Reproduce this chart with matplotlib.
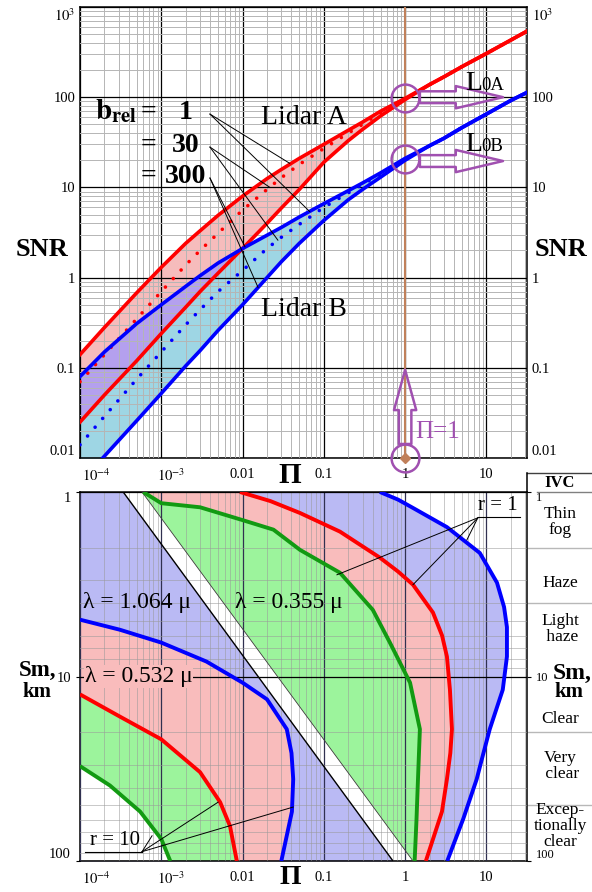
import numpy as np
import matplotlib
matplotlib.use('Agg')
import matplotlib.pyplot as plt
import matplotlib.transforms as mtransforms
from matplotlib.ticker import LogLocator, FixedLocator, FixedFormatter, NullFormatter

plt.rcParams['font.family'] = ['Liberation Serif', 'DejaVu Serif']
plt.rcParams['mathtext.fontset'] = 'stix'

# ---- top panel: SNR vs Pi ----
pi_top = [1e-4, 2e-4, 5e-4, 1e-3, 2e-3, 3e-3, 5e-3, 0.01, 0.02, 0.03, 0.05, 0.1,
          0.2, 0.3, 0.5, 1, 2, 3, 5, 10, 20, 31.6]
snr_a1 = [0.14, 0.28, 0.68, 1.3, 2.4, 3.3, 4.9, 8.0, 12.5, 15.8, 21, 30,
          43, 53, 70, 97, 138, 168, 218, 305, 430, 540]
snr_a30 = [0.07, 0.14, 0.35, 0.70, 1.38, 2.0, 3.1, 5.6, 9.5, 12.8, 18, 27,
           40, 50, 67, 96, 138, 168, 218, 305, 430, 540]
snr_a300 = [0.025, 0.05, 0.12, 0.24, 0.47, 0.70, 1.12, 2.1, 4.0, 5.9, 9.5, 19,
            33, 44, 62, 94, 138, 168, 218, 305, 430, 540]
snr_b1 = [0.08, 0.15, 0.31, 0.5, 0.8, 1.05, 1.45, 2.1, 2.95, 3.6, 4.7, 6.6,
          9.2, 11.2, 14.5, 21, 29, 35, 46, 65, 92, 113]
snr_b30 = [0.014, 0.029, 0.075, 0.15, 0.30, 0.44, 0.70, 1.2, 2.1, 2.8, 3.9, 6.0,
           8.7, 10.8, 14, 20.5, 29, 35, 46, 65, 92, 113]
snr_b300 = [0.0053, 0.0105, 0.026, 0.052, 0.105, 0.155, 0.26, 0.5, 1.0, 1.5, 2.4, 4.3,
            7.3, 9.5, 13, 20, 29, 35, 46, 65, 92, 113]

pi_ticks = [1e-4, 1e-3, 0.01, 0.1, 1, 10]
pi_labels = ['$10^{-4}$', '$10^{-3}$', '0.01', '0.1', '1', '10']
snr_ticks = [0.01, 0.1, 1, 10, 100, 1000]
snr_labels = ['0.01', '0.1', '1', '10', '100', '$10^{3}$']

# leader lines: label anchor -> (Pi, SNR) points on curves
brel_rows = ['1', '30', '300']
brel_anchor = [65, 28, 12.7]
brel_targets = [[(0.038, 18.5), (0.067, 5.4)],
                [(0.0217, 10), (0.0272, 2.6)],
                [(0.0107, 2.2), (0.0155, 0.78)]]
l0_snr = [97, 20.5]

# ---- bottom panel: Sm vs Pi ----
sm_ticks = [1, 10, 100]
band_sm = [1, 100]
band_left = [3.4e-4, 0.71]
band_right = [5.8e-4, 1.25]

g1_sm = [1, 1.15, 1.21, 1.42, 1.6, 2.06, 2.74, 4.35, 6.55, 10.8, 19.3, 36, 60, 100]
g1_pi = [6.0e-4, 1e-3, 3e-3, 0.01, 0.024, 0.051, 0.158, 0.40, 0.65, 1.15, 1.52, 1.44, 1.38, 1.31]
r1_sm = [1, 1.12, 1.30, 1.64, 2.27, 2.7, 3.18, 4.5, 6.0, 7.8, 11.8, 19.3, 26, 36, 54, 100]
r1_pi = [0.0093, 0.022, 0.051, 0.158, 0.49, 0.82, 1.25, 2.2, 2.85, 3.27, 3.56, 3.77, 3.6,
         3.27, 2.84, 1.8]
b1_sm = [1, 1.1, 1.22, 1.55, 2.14, 3.1, 4.2, 5.4, 7.8, 11.8, 19.3, 27, 36, 59, 100]
b1_pi = [0.49, 0.82, 1.25, 3.27, 8.3, 13.5, 16.5, 17.9, 17.9, 15.9, 11, 9.0, 7.6, 5.2, 3.3]

b10_sm = [4.92, 5.58, 6.55, 8.3, 10.8, 13.3, 19.3, 26, 36, 54, 100]
b10_pi = [1e-4, 3.1e-4, 1e-3, 3.6e-3, 0.01, 0.02, 0.035, 0.040, 0.042, 0.0405, 0.030]
r10_sm = [12.5, 16.5, 21.9, 33, 48, 64.6, 100]
r10_pi = [1e-4, 3.1e-4, 1e-3, 3.0e-3, 5.3e-3, 7.0e-3, 8.5e-3]
g10_sm = [30.6, 39, 54, 76, 100]
g10_pi = [1e-4, 2.34e-4, 5.5e-4, 1e-3, 1.29e-3]

r1_targets = [(0.145, 2.81), (1.25, 3.18), (5.75, 1.82)]
r10_targets = [(7.7e-4, 73), (5.0e-3, 48), (0.042, 51)]

ivc_names = ['Thin\nfog', 'Haze', 'Light\n haze', 'Clear', 'Very\n clear', 'Excep-\ntionally\nclear']
ivc_pos = [1.45, 3.1, 5.5, 16.9, 30.6, 65]
ivc_edges = [2, 4, 20, 50]

RED = '#ff0000'
BLUE = '#0000ff'
GREEN = '#129a12'
PURPLE = '#a050b0'
BROWN = '#c0805a'

W, H = 592, 892
fig = plt.figure(figsize=(W / 100, H / 100), dpi=100)
ax1 = fig.add_axes([80 / W, 1 - 458 / H, 447 / W, 451 / H])
ax2 = fig.add_axes([80 / W, 1 - 861 / H, 447 / W, 369 / H])

for ax in (ax1, ax2):
    ax.set_xscale('log')
    ax.set_yscale('log')
    ax.set_xlim(1e-4, 31.6)
    ax.set_axisbelow(False)
    ax.xaxis.set_major_locator(FixedLocator(pi_ticks))
    ax.xaxis.set_major_formatter(FixedFormatter(pi_labels))
    ax.xaxis.set_minor_locator(LogLocator(10, subs=np.arange(2, 10), numticks=30))
    ax.xaxis.set_minor_formatter(NullFormatter())
    ax.yaxis.set_minor_locator(LogLocator(10, subs=np.arange(2, 10), numticks=30))
    ax.yaxis.set_minor_formatter(NullFormatter())
    ax.tick_params(which='both', length=0, labelsize=10.5)
    ax.tick_params(axis='x', pad=7)
    ax.tick_params(axis='y', labelright=True)
    for s in ax.spines.values():
        s.set_linewidth(1.1)
    for lab, dx in zip(ax.get_xticklabels()[:2], [2, -4]):
        lab.set_ha('left')
        lab.set_transform(lab.get_transform() +
                          mtransforms.ScaledTranslation(dx / 100, 0, fig.dpi_scale_trans))

# ---------------- top panel ----------------
ax1.set_ylim(0.01, 1000)
ax1.yaxis.set_major_locator(FixedLocator(snr_ticks))
ax1.yaxis.set_major_formatter(FixedFormatter(snr_labels))
ax1.grid(True, which='major', color='black', lw=0.9)
ax1.grid(True, which='minor', color='#b5b5b5', lw=0.7)
yt = ax1.yaxis.get_major_ticks()
for lab in (yt[0].label1, yt[0].label2):
    lab.set_va('bottom')
for lab in (yt[-1].label1, yt[-1].label2):
    lab.set_va('top')

fb = ax1.fill_between(pi_top, snr_b300, snr_b1, color='#9ed6e4', lw=0, zorder=1)
ax1.fill_between(pi_top, snr_a300, snr_a1, color='#f6bcbc', lw=0, zorder=1)
fab = ax1.fill_between(pi_top, snr_a300, snr_a1, color='#b4a0ee', lw=0, zorder=1.1)
fab.set_clip_path(fb.get_paths()[0], ax1.transData)

dots = dict(lw=2.6, ls=(0, (0.01, 3.2)), dash_capstyle='round', zorder=3)
ax1.plot(pi_top, snr_a1, color=RED, lw=2.6, zorder=3)
ax1.plot(pi_top, snr_a300, color=RED, lw=2.6, zorder=3)
ax1.plot(pi_top, snr_a30, color=RED, **dots)
ax1.plot(pi_top, snr_b1, color=BLUE, lw=2.6, zorder=3)
ax1.plot(pi_top, snr_b300, color=BLUE, lw=2.6, zorder=3)
ax1.plot(pi_top, snr_b30, color=BLUE, **dots)

ax1.axvline(1, color=BROWN, lw=1.5, zorder=2.8)
ax1.plot([1, 1], l0_snr, 'o', ms=20, mfc='none', mec=PURPLE, mew=1.8, zorder=4)
ax1.plot(1, 0.01, 'o', ms=20, mfc='none', mec=PURPLE, mew=1.8, zorder=4, clip_on=False)
ax1.plot(1, 0.01, 'D', ms=5, color=BROWN, zorder=4, clip_on=False)

arr_r = dict(arrowstyle='simple,head_length=34,head_width=16,tail_width=8.5',
             mutation_scale=1, fc='none', ec=PURPLE, lw=1.8, shrinkA=0, shrinkB=0)
for y in [100, 19.6]:
    ax1.annotate('', xy=(16, y), xytext=(1.52, y), arrowprops=arr_r, zorder=4)
arr_u = dict(arrowstyle='simple,head_length=29,head_width=16,tail_width=9',
             mutation_scale=1, fc='none', ec=PURPLE, lw=1.8, shrinkA=0, shrinkB=0)
ax1.annotate('', xy=(1, 0.095), xytext=(1, 0.0143), arrowprops=arr_u, zorder=4,
             annotation_clip=False)
ax1.text(1.32, 0.0194, 'Π=1', color=PURPLE, fontsize=18, va='center', ha='left', zorder=5)

for y, sub in [(120, '0A'), (25.3, '0B')]:
    ax1.text(5.45, y, 'L', fontsize=20, va='baseline', ha='left', zorder=5)
    ax1.annotate(sub, xy=(5.45, y), xytext=(12, 0), textcoords='offset points',
                 fontsize=13.5, va='baseline', ha='left', zorder=5)

ax1.text(1.53e-4, 57, r'$\mathbf{b}_{\mathbf{rel}}$', fontsize=21, va='baseline', ha='left', zorder=5)
for row, ya, tg in zip(brel_rows, brel_anchor, brel_targets):
    yc = ya * 1.05
    ax1.text(6.9e-4, yc, '=', fontsize=20, fontweight='bold', ha='center', va='center', zorder=5)
    ax1.text(2.0e-3, yc, row, fontsize=20, fontweight='bold', ha='center', va='center', zorder=5)
    for tx, ty in tg:
        ax1.plot([3.97e-3, tx], [ya, ty], color='black', lw=0.7, zorder=4)

ax1.text(0.057, 60, 'Lidar A', fontsize=20, ha='center', va='center', zorder=5)
ax1.text(0.057, 0.44, 'Lidar B', fontsize=20, ha='center', va='center', zorder=5)

# ---------------- bottom panel ----------------
ax2.set_ylim(100, 1)
ax2.yaxis.set_major_locator(FixedLocator(sm_ticks))
ax2.yaxis.set_major_formatter(FixedFormatter(['1', '10', '100']))
ax2.grid(True, which='major', axis='y', color='black', lw=0.9)
ax2.grid(True, which='major', axis='x', color='#303050', lw=0.9)
ax2.grid(True, which='minor', color='#9a9a9a', lw=0.7, alpha=0.55)
yt2 = ax2.yaxis.get_major_ticks()
for lab in (yt2[0].label1, yt2[0].label2):
    lab.set_va('top')
for lab in (yt2[-1].label1, yt2[-1].label2):
    lab.set_va('bottom')
for t in yt2:
    t.label2.set_fontsize(9)
ax2.tick_params(axis='y', which='major', right=True, length=3, direction='out')

LAV = '#babaf4'
PINK = '#f9bcbc'
GRN = '#9cf49c'
pmin, smax = ax2.get_xlim()[0], 100

ax2.fill_betweenx(band_sm, pmin, band_left, color=LAV, lw=0, zorder=1)
ax2.fill(np.r_[b10_pi, pmin], np.r_[b10_sm, smax], color=PINK, lw=0, zorder=1)
ax2.fill(np.r_[r10_pi, pmin], np.r_[r10_sm, smax], color=GRN, lw=0, zorder=1)
ax2.fill(np.r_[g10_pi, pmin], np.r_[g10_sm, smax], color='white', lw=0, zorder=1)
for cpi, csm, col in [(b1_pi, b1_sm, LAV), (r1_pi, r1_sm, PINK), (g1_pi, g1_sm, GRN)]:
    ax2.fill(np.r_[band_right, cpi[::-1]], np.r_[band_sm, csm[::-1]], color=col, lw=0, zorder=1)
ax2.plot(band_left, band_sm, color='black', lw=1.0, zorder=3)
ax2.plot(band_right, band_sm, color='#404040', lw=0.6, zorder=3)

for cpi, csm, col in [(g1_pi, g1_sm, GREEN), (r1_pi, r1_sm, RED), (b1_pi, b1_sm, BLUE),
                      (g10_pi, g10_sm, GREEN), (r10_pi, r10_sm, RED), (b10_pi, b10_sm, BLUE)]:
    ax2.plot(cpi, csm, color=col, lw=2.8, zorder=3, solid_capstyle='butt')

ax2.text(1.09e-4, 3.98, 'λ = 1.064 μ', fontsize=17, ha='left', va='center', zorder=5)
ax2.text(8.05e-3, 3.98, 'λ = 0.355 μ', fontsize=17, ha='left', va='center', zorder=5)
ax2.text(1.15e-4, 10, 'λ = 0.532 μ', fontsize=17, ha='left', va='center', zorder=5,
         bbox=dict(fc=PINK, ec='none', pad=0.5))

ax2.text(13.8, 1.33, 'r = 1', fontsize=15, ha='center', va='bottom', zorder=5)
ax2.plot([7.85, 25.7], [1.365, 1.365], color='black', lw=0.8, zorder=4)
for tx, ty in r1_targets:
    ax2.plot([7.85, tx], [1.38, ty], color='black', lw=0.7, zorder=4)
ax2.text(2.7e-4, 87.5, 'r = 10', fontsize=15, ha='center', va='bottom', zorder=5)
ax2.plot([1.15e-4, 5.8e-4], [89, 89], color='black', lw=0.8, zorder=4)
for tx, ty in r10_targets:
    ax2.plot([5.8e-4, tx], [89, ty], color='black', lw=0.7, zorder=4)

# visibility class table on the right
ytr = ax2.get_yaxis_transform()
xr = 592 / 447 - 80 / 447
ax2.hlines(ivc_edges, 1, xr, transform=ytr, colors='#b8b8b8', lw=1, clip_on=False)
ax2.plot([1.022, xr], [1, 1], transform=ax2.transAxes, color='#808080', lw=1, clip_on=False)
ax2.plot([1, xr], [1.0515, 1.0515], transform=ax2.transAxes, color='#404040', lw=1, clip_on=False)
ax2.plot([1, 1], [1, 1.0515], transform=ax2.transAxes, color='black', lw=1.1, clip_on=False)
ax2.text(1.074, 1.024, 'IVC', transform=ax2.transAxes, fontsize=12, fontweight='bold',
         ha='center', va='center')
for name, y in zip(ivc_names, ivc_pos):
    ax2.text(1.074, y, name, transform=ytr, fontsize=12.5, ha='center', va='center',
             linespacing=1.0)

# axis titles
def fpos(x, y):
    return x / W, 1 - y / H

fig.text(*fpos(42, 250), 'SNR', fontsize=19, fontweight='bold', ha='center', va='center')
fig.text(*fpos(561, 250), 'SNR', fontsize=19, fontweight='bold', ha='center', va='center')
fig.text(*fpos(290, 475), 'Π', fontsize=21, fontweight='bold', ha='center', va='center')
fig.text(*fpos(290, 878), 'Π', fontsize=20, fontweight='bold', ha='center', va='center')
fig.text(*fpos(38, 670), 'Sm,', fontsize=16.5, fontweight='bold', ha='center', va='center')
fig.text(*fpos(37, 692), 'km', fontsize=15, fontweight='bold', ha='center', va='center')
fig.text(*fpos(572, 673), 'Sm,', fontsize=17, fontweight='bold', ha='center', va='center')
fig.text(*fpos(569, 692), 'km', fontsize=15, fontweight='bold', ha='center', va='center')

fig.savefig('out.png', dpi=100)
